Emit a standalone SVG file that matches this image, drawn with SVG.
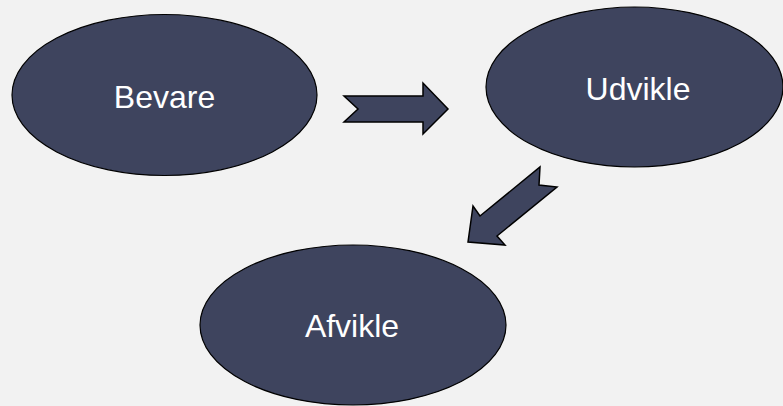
<svg xmlns="http://www.w3.org/2000/svg" width="783" height="406" viewBox="0 0 783 406">
<style>
.n{fill:#3e445e;stroke:#000;stroke-width:1.2}
.t{fill:#fff;font-family:"Liberation Sans",Arial,sans-serif;font-size:32px;text-anchor:middle}
.a{fill:#3e445e;stroke:#000;stroke-width:1.5;stroke-linejoin:miter}
</style>
<rect width="783" height="406" fill="#f2f2f2"/>
<g id="connectors">
<polygon class="a" points="344,96 423,96 423,83 448,109 423,134 423,122 344,122 358,109"/>
<polygon class="a" points="540,167 539,185 557,187 497,236 505,245 468,242 473,206 480,216"/>
</g>
<g id="bevare">
<ellipse class="n" cx="164.5" cy="95" rx="152.5" ry="80.5"/>
<text class="t" x="164.5" y="108">Bevare</text>
</g>
<g id="udvikle">
<ellipse class="n" cx="634.5" cy="87" rx="148.5" ry="80"/>
<text class="t" x="638" y="100">Udvikle</text>
</g>
<g id="afvikle">
<ellipse class="n" cx="353" cy="325" rx="153" ry="80"/>
<text class="t" x="352" y="337">Afvikle</text>
</g>
</svg>
